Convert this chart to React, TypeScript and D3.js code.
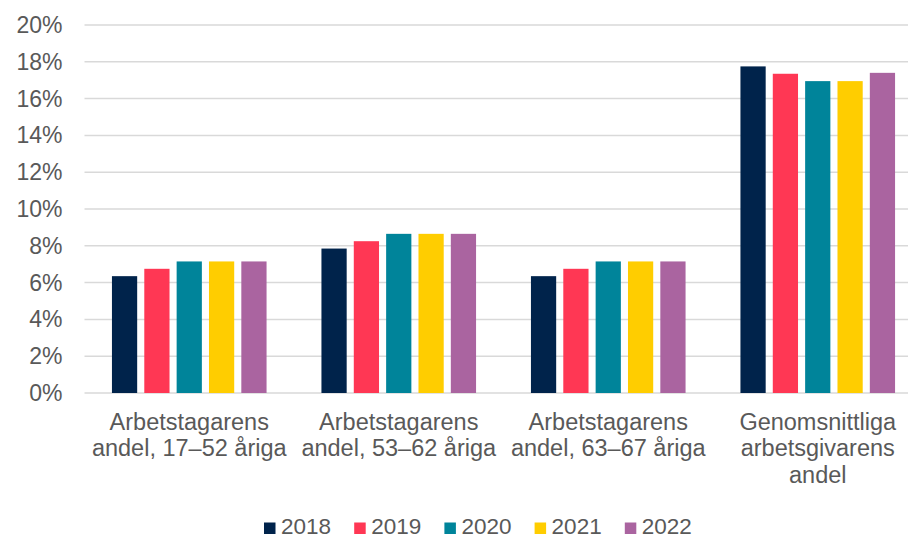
import React from "react";
import * as d3 from "d3";

const categories: string[][] = [
  ["Arbetstagarens", "andel, 17–52 åriga"],
  ["Arbetstagarens", "andel, 53–62 åriga"],
  ["Arbetstagarens", "andel, 63–67 åriga"],
  ["Genomsnittliga", "arbetsgivarens", "andel"],
];
const years = ["2018", "2019", "2020", "2021", "2022"];
const v2018 = [6.35, 7.85, 6.35, 17.75];
const v2019 = [6.75, 8.25, 6.75, 17.35];
const v2020 = [7.15, 8.65, 7.15, 16.95];
const v2021 = [7.15, 8.65, 7.15, 16.95];
const v2022 = [7.15, 8.65, 7.15, 17.4];
const seriesValues = [v2018, v2019, v2020, v2021, v2022];
const colors = ["#00234B", "#FF3754", "#00849A", "#FFCD00", "#AA64A0"];
const yTicks = [0, 2, 4, 6, 8, 10, 12, 14, 16, 18, 20];

const W = 908;
const H = 537;
const FONT = "'Liberation Sans', Arial, sans-serif";
const TXT = "#595959";

export default function App() {
  const plotLeft = 84.5;
  const plotRight = 922.5;
  const y = d3.scaleLinear().domain([0, 20]).range([393, 25]);
  const x0 = d3
    .scaleBand<number>()
    .domain(categories.map((_, i) => i))
    .range([plotLeft, plotRight])
    .padding(0);
  const bw = x0.bandwidth();
  const x1 = d3
    .scaleBand<string>()
    .domain(years)
    .range([bw * 0.131, bw * 0.869])
    .paddingInner(0.22)
    .paddingOuter(0);
  const legendX = d3
    .scaleBand<string>()
    .domain(years)
    .range([264, 264 + 5 * 90.2]);

  return (
    <svg
      width={W}
      height={H}
      style={{ position: "absolute", left: 0, top: 0, background: "#fff" }}
      fontFamily={FONT}
    >
      <rect x={0} y={0} width={W} height={H} fill="#fff" />
      {yTicks.map((t) => (
        <g key={t}>
          <line
            x1={plotLeft}
            x2={plotRight}
            y1={y(t)}
            y2={y(t)}
            stroke="#d9d9d9"
            strokeWidth={1.5}
          />
          <text
            x={62.5}
            y={y(t)}
            dy="0.35em"
            textAnchor="end"
            fontSize={23}
            fill={TXT}
          >
            {t}%
          </text>
        </g>
      ))}
      {categories.map((cat, ci) => (
        <g key={ci} transform={`translate(${x0(ci)},0)`}>
          {years.map((yr, si) => {
            const v = seriesValues[si][ci];
            return (
              <rect
                key={yr}
                x={x1(yr)}
                y={y(v)}
                width={x1.bandwidth()}
                height={y(0) - y(v)}
                fill={colors[si]}
              />
            );
          })}
          {cat.map((line, li) => (
            <text
              key={li}
              x={bw / 2}
              y={429.5 + li * 26.6}
              textAnchor="middle"
              fontSize={23.5}
              fill={TXT}
            >
              {line}
            </text>
          ))}
        </g>
      ))}
      {years.map((yr, si) => (
        <g key={yr} transform={`translate(${legendX(yr)},0)`}>
          <rect x={0} y={522.5} width={11.5} height={11.5} fill={colors[si]} />
          <text x={17} y={533.5} fontSize={22.5} fill={TXT}>
            {yr}
          </text>
        </g>
      ))}
    </svg>
  );
}
